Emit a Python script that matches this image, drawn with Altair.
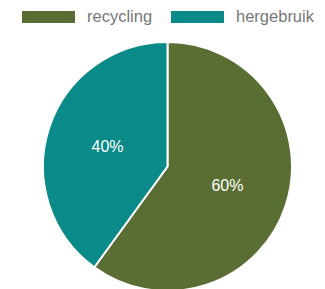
import altair as alt
import pandas as pd

categories = ["recycling", "hergebruik"]
values = [60, 40]
labels = ["60%", "40%"]
order = [0, 1]
colors = ["#5a6e34", "#0a8a88"]

df = pd.DataFrame({"categorie": categories, "waarde": values, "label": labels, "volgorde": order})

FONT = "Liberation Sans"
TOP = 30

base = alt.Chart(df).encode(
    theta=alt.Theta("waarde:Q", stack=True),
    order=alt.Order("volgorde:Q"),
    x=alt.value(159.5),
    y=alt.value(158.5 - TOP),
)

arcs = base.mark_arc(outerRadius=124.5, stroke="white", strokeWidth=2).encode(
    color=alt.Color(
        "categorie:N",
        scale=alt.Scale(domain=categories, range=colors),
        legend=alt.Legend(
            orient="none",
            legendX=14,
            legendY=-17.5 - TOP,
            direction="horizontal",
            title=None,
            symbolType="M-1,-0.226L1,-0.226L1,0.226L-1,0.226Z",
            symbolSize=2809,
            symbolStrokeWidth=0,
            labelFontSize=16.5,
            labelFont=FONT,
            labelColor="#777777",
            labelOffset=12,
            columnPadding=18,
        ),
    )
)

texts = base.mark_text(radius=63, fontSize=16, font=FONT, color="white").encode(
    text="label:N"
)

chart = (
    alt.layer(arcs, texts)
    .properties(
        width=309,
        height=281 - TOP,
        padding={"top": TOP, "left": 0, "right": 0, "bottom": 0},
        autosize=alt.AutoSizeParams(type="none"),
    )
    .configure_view(stroke=None)
)

chart.save("out.html", embed_options={"renderer": "svg", "actions": False})
